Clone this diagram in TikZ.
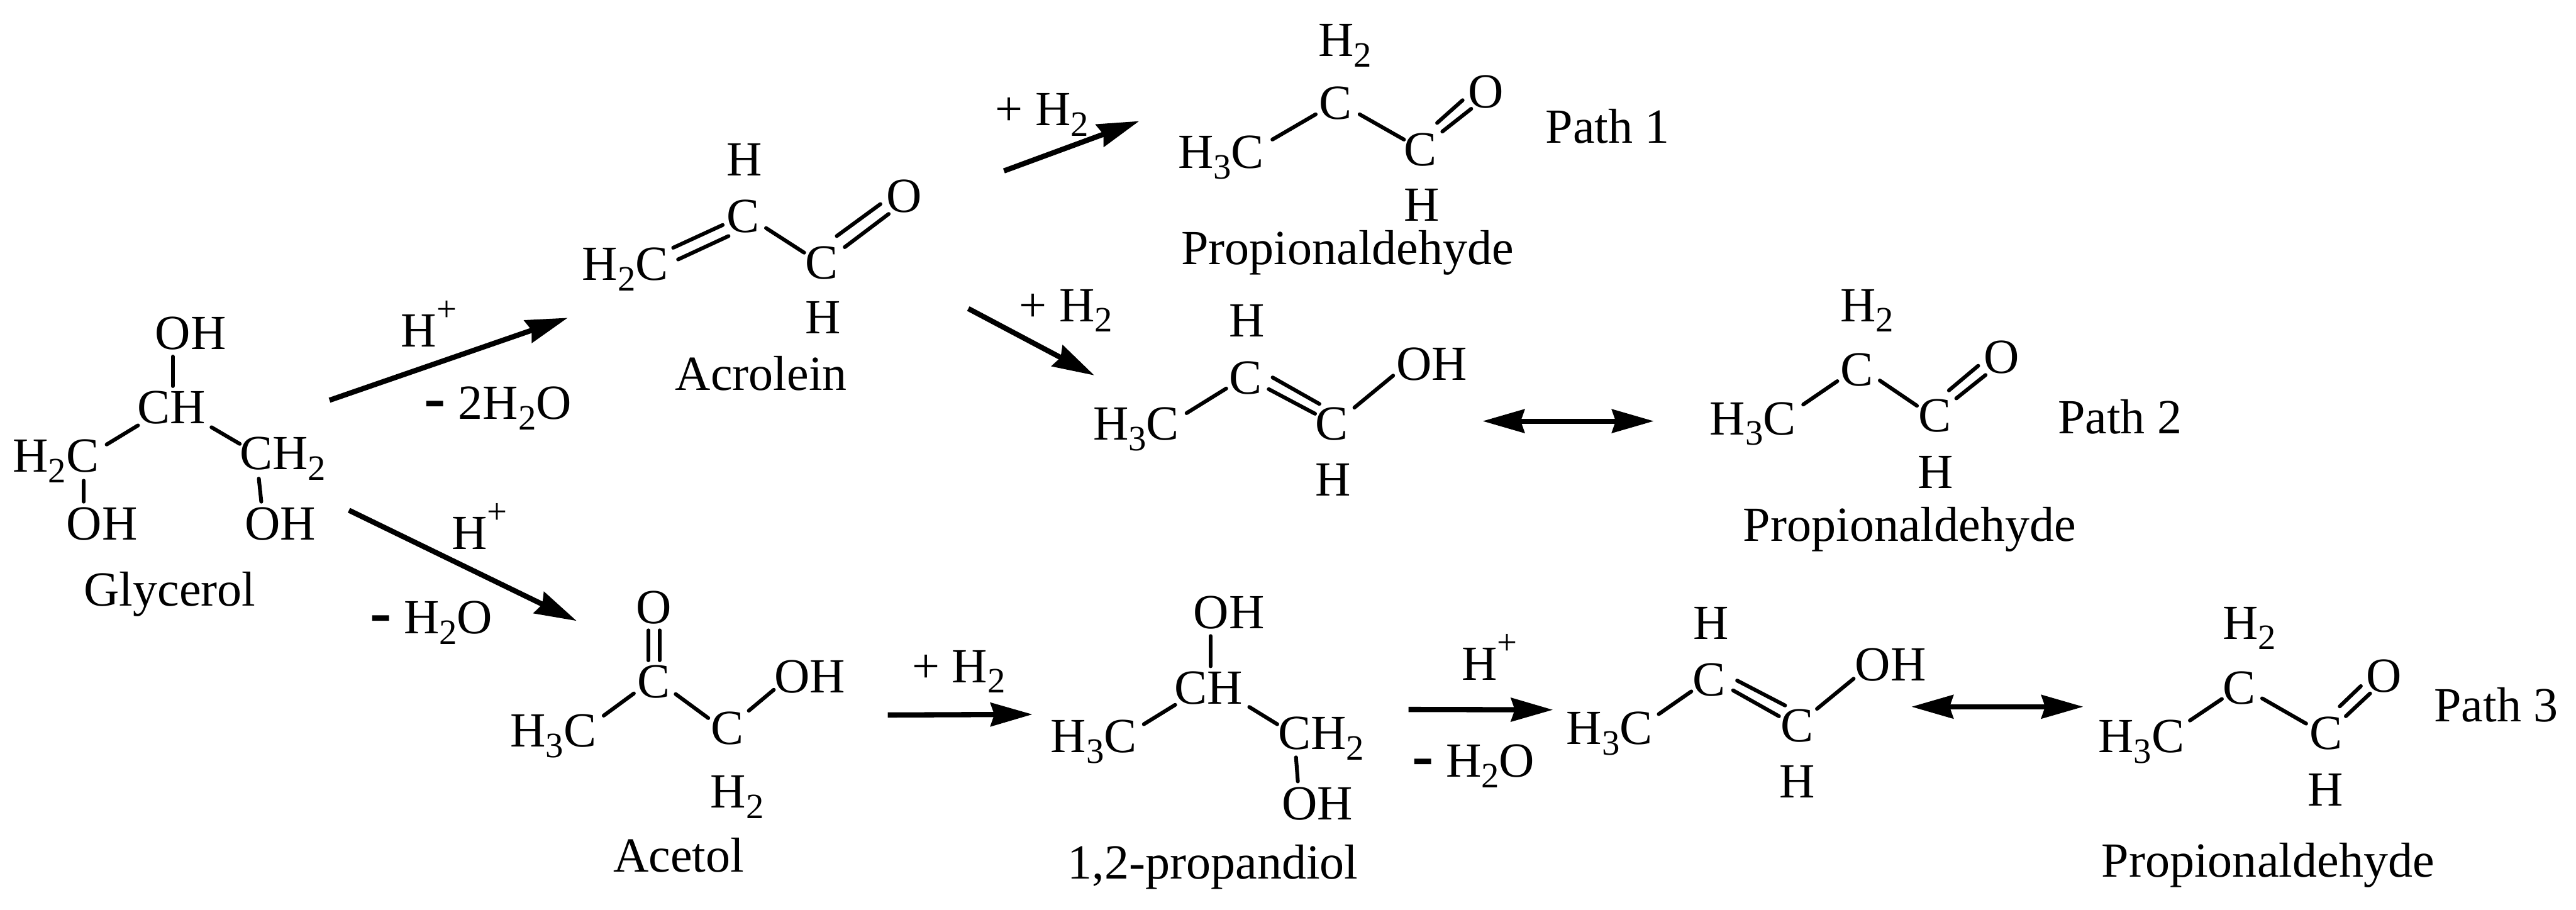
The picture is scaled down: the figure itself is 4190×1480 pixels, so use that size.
\documentclass[tikz,border=0pt]{standalone}
\usepackage{fontspec}
\setmainfont{Liberation Serif}
\usetikzlibrary{arrows.meta}
\newcommand{\subr}[1]{\raisebox{-0.17cm}{\fontsize{16.5}{16.5}\selectfont #1}}
\newcommand{\supr}[1]{\raisebox{0.42cm}{\fontsize{16.5}{16.5}\selectfont #1}}
\newcommand{\minusb}{{\fontsize{30}{30}\selectfont\bfseries -}}
\tikzset{
  atom/.style={inner sep=0pt, anchor=base, font=\fontsize{22.7}{27}\selectfont},
  bond/.style={line width=0.062cm, line cap=round},
  arr/.style={line width=0.085cm, -{Stealth[length=0.68cm,width=0.38cm,inset=0.06cm]}},
  arrb/.style={line width=0.08cm, {Stealth[length=0.68cm,width=0.38cm,inset=0.06cm]}-{Stealth[length=0.68cm,width=0.38cm,inset=0.06cm]}}
}
\begin{document}
\begin{tikzpicture}[x=0.01cm,y=-0.01cm]
\useasboundingbox (0,0) rectangle (4190,1480);

\node[atom] (goht) at (310,568) {OH};
\node[atom] (gch) at (279,689) {CH};
\node[atom] (gh2c) at (91,768) {H\subr{2}C};
\node[atom] (gch2) at (460,764) {CH\subr{2}};
\node[atom] (gohl) at (166,878) {OH};
\node[atom] (gohr) at (456,878) {OH};
\node[atom] (glabel) at (276,986) {Glycerol};
\draw[bond] ([shift={(2,-61)}]gch.base) -- ([shift={(-29,12)}]goht.base);
\draw[bond] ([shift={(-54.5,3)}]gch.base) -- ([shift={(82.5,-45)}]gh2c.base);
\draw[bond] ([shift={(65,6)}]gch.base) -- ([shift={(-70,-42)}]gch2.base);
\draw[bond] ([shift={(45.5,14)}]gh2c.base) -- ([shift={(-29.5,-62)}]gohl.base);
\draw[bond] ([shift={(-39,14.6)}]gch2.base) -- ([shift={(-31,-62)}]gohr.base);

\node[atom] (ah) at (1211,286) {H};
\node[atom] (ac) at (1209,378) {C};
\node[atom] (ah2c) at (1017,456) {H\subr{2}C};
\node[atom] (acr) at (1337,454) {C};
\node[atom] (ao) at (1471,345) {O};
\node[atom] (ahr) at (1339,543) {H};
\node[atom] (alabel) at (1238,635) {Acrolein};
\draw[bond] ([shift={(78,-53)}]ah2c.base) -- ([shift={(-33.5,-12)}]ac.base);
\draw[bond] ([shift={(86,-34)}]ah2c.base) -- ([shift={(-24,6)}]ac.base);
\draw[bond] ([shift={(37,-7)}]ac.base) -- ([shift={(-29,-43)}]acr.base);
\draw[bond] ([shift={(24,-70)}]acr.base) -- ([shift={(-39,-13)}]ao.base);
\draw[bond] ([shift={(37,-52)}]acr.base) -- ([shift={(-25.5,3)}]ao.base);

\node[atom] (ph2) at (2188,92) {H\subr{2}};
\node[atom] (pc) at (2172,194) {C};
\node[atom] (ph3c) at (1986,274) {H\subr{3}C};
\node[atom] (pcr) at (2310,270) {C};
\node[atom] (po) at (2417,175) {O};
\node[atom] (ph) at (2313,360) {H};
\node[atom] (ppath) at (2615,232.7) {Path 1};
\node[atom] (plabel) at (2192,430) {Propionaldehyde};
\draw[bond] ([shift={(83.6,-47)}]ph3c.base) -- ([shift={(-32,-8)}]pc.base);
\draw[bond] ([shift={(39.5,-8)}]pc.base) -- ([shift={(-26.4,-43)}]pcr.base);
\draw[bond] ([shift={(27.5,-70)}]pcr.base) -- ([shift={(-38,-12)}]po.base);
\draw[bond] ([shift={(36,-56)}]pcr.base) -- ([shift={(-24,2)}]po.base);

\node[atom] (eh) at (2028,548) {H};
\node[atom] (ec) at (2026,641) {C};
\node[atom] (ech3) at (1848,716) {H\subr{3}C};
\node[atom] (ecr) at (2166,716) {C};
\node[atom] (eoh) at (2329,618) {OH};
\node[atom] (ehr) at (2168,807) {H};
\draw[bond] ([shift={(82,-44)}]ech3.base) -- ([shift={(-31.5,-9)}]ec.base);
\draw[bond] ([shift={(44,-27)}]ec.base) -- ([shift={(-20,-59)}]ecr.base);
\draw[bond] ([shift={(37.6,-8)}]ec.base) -- ([shift={(-27,-43)}]ecr.base);
\draw[bond] ([shift={(37,-53)}]ecr.base) -- ([shift={(-63,-7)}]eoh.base);

\node[atom] (qh2) at (3037,523) {H\subr{2}};
\node[atom] (qc) at (3020,628) {C};
\node[atom] (qh3c) at (2851,707) {H\subr{3}C};
\node[atom] (qcr) at (3147,702) {C};
\node[atom] (qo) at (3256,607) {O};
\node[atom] (qh) at (3148,794) {H};
\node[atom] (qpath) at (3448,705) {Path 2};
\node[atom] (qlabel) at (3106,880) {Propionaldehyde};
\draw[bond] ([shift={(82,-49)}]qh3c.base) -- ([shift={(-31.5,-8)}]qc.base);
\draw[bond] ([shift={(37.6,-9)}]qc.base) -- ([shift={(-29,-42)}]qcr.base);
\draw[bond] ([shift={(23,-67)}]qcr.base) -- ([shift={(-38.4,-12)}]qo.base);
\draw[bond] ([shift={(35,-54)}]qcr.base) -- ([shift={(-26.4,3)}]qo.base);

\node[atom] (to) at (1064,1014) {O};
\node[atom] (tc) at (1063,1135) {C};
\node[atom] (th3c) at (900,1215) {H\subr{3}C};
\node[atom] (tcr) at (1183,1211) {C};
\node[atom] (toh) at (1317,1127) {OH};
\node[atom] (th2) at (1199,1314) {H\subr{2}};
\node[atom] (tlabel) at (1104,1418) {Acetol};
\draw[bond] ([shift={(-8.4,-61)}]tc.base) -- ([shift={(-9.4,11.4)}]to.base);
\draw[bond] ([shift={(10,-61)}]tc.base) -- ([shift={(9,11.4)}]to.base);
\draw[bond] ([shift={(82,-51)}]th3c.base) -- ([shift={(-32,-7)}]tc.base);
\draw[bond] ([shift={(36,-6)}]tc.base) -- ([shift={(-31,-43)}]tcr.base);
\draw[bond] ([shift={(35,-55)}]tcr.base) -- ([shift={(-58.4,-5)}]toh.base);

\node[atom] (doh) at (1999,1022) {OH};
\node[atom] (dch) at (1966,1145) {CH};
\node[atom] (dh3c) at (1779,1224) {H\subr{3}C};
\node[atom] (dch2) at (2149,1219) {CH\subr{2}};
\node[atom] (dohb) at (2143,1333.5) {OH};
\node[atom] (dlabel) at (1973,1430) {1,2-propandiol};
\draw[bond] ([shift={(3,-61.3)}]dch.base) -- ([shift={(-30,12.6)}]doh.base);
\draw[bond] ([shift={(81.5,-46)}]dh3c.base) -- ([shift={(-54.5,1.5)}]dch.base);
\draw[bond] ([shift={(66,5)}]dch.base) -- ([shift={(-71.5,-41)}]dch2.base);
\draw[bond] ([shift={(-41,13)}]dch2.base) -- ([shift={(-32,-62.5)}]dohb.base);

\node[atom] (fh) at (2783,1039.5) {H};
\node[atom] (fc) at (2780,1132) {C};
\node[atom] (fh3c) at (2618,1211) {H\subr{3}C};
\node[atom] (fcr) at (2923,1207) {C};
\node[atom] (foh) at (3075,1107) {OH};
\node[atom] (fhr) at (2923,1298) {H};
\draw[bond] ([shift={(80,-49.4)}]fh3c.base) -- ([shift={(-29,-7.3)}]fc.base);
\draw[bond] ([shift={(45.5,-25)}]fc.base) -- ([shift={(-19.5,-59.5)}]fcr.base);
\draw[bond] ([shift={(39,-9)}]fc.base) -- ([shift={(-29.4,-42)}]fcr.base);
\draw[bond] ([shift={(32.4,-54)}]fcr.base) -- ([shift={(-60,-3)}]foh.base);

\node[atom] (rh2) at (3659,1039.5) {H\subr{2}};
\node[atom] (rc) at (3642,1145) {C};
\node[atom] (rh3c) at (3483,1224) {H\subr{3}C};
\node[atom] (rcr) at (3783,1219) {C};
\node[atom] (ro) at (3878,1126) {O};
\node[atom] (rh) at (3783,1311) {H};
\node[atom] (rpath) at (4060,1174) {Path 3};
\node[atom] (rlabel) at (3689,1426.5) {Propionaldehyde};
\draw[bond] ([shift={(79,-52)}]rh3c.base) -- ([shift={(-28,-8)}]rc.base);
\draw[bond] ([shift={(37.5,-9)}]rc.base) -- ([shift={(-32,-42)}]rcr.base);
\draw[bond] ([shift={(22.7,-70)}]rcr.base) -- ([shift={(-38,-10)}]ro.base);
\draw[bond] ([shift={(32.6,-54)}]rcr.base) -- ([shift={(-23,2)}]ro.base);

\node[atom] (hplusa) at (697.5,564) {H\supr{+}};
\node[atom] (hplusb) at (780,894) {H\supr{+}};
\node[atom] (hplusc) at (2423,1106) {H\supr{+}};
\node[atom] (watera) at (810,682) {\minusb{} 2H\subr{2}O};
\node[atom] (waterb) at (701.5,1031) {\minusb{} H\subr{2}O};
\node[atom] (waterc) at (2396.5,1264) {\minusb{} H\subr{2}O};
\node[atom] (plusa) at (1695,204) {+ H\subr{2}};
\node[atom] (plusb) at (1734,523) {+ H\subr{2}};
\node[atom] (plusc) at (1559.5,1110) {+ H\subr{2}};

\draw[arr] ([shift={(76,-113)}]gch2.base) -- ([shift={(-93.5,61)}]ah2c.base);
\draw[arr] ([shift={(111.6,-48)}]gohr.base) -- ([shift={(-126,-4)}]to.base);
\draw[arr] ([shift={(162,-67)}]ao.base) -- ([shift={(-133,-77)}]ph3c.base);
\draw[arr] ([shift={(236,-41)}]ahr.base) -- ([shift={(-68,-105.4)}]ech3.base);
\draw[arr] ([shift={(127,36)}]toh.base) -- ([shift={(-99.6,-62)}]dh3c.base);
\draw[arr] ([shift={(142,-65)}]dch2.base) -- ([shift={(-92,-56.4)}]fh3c.base);
\draw[arrb] ([shift={(245.5,-31)}]ecr.base) -- ([shift={(-161,-22)}]qh3c.base);
\draw[arrb] ([shift={(186,-57.4)}]fcr.base) -- ([shift={(-94.4,-74.4)}]rh3c.base);
\end{tikzpicture}
\end{document}
